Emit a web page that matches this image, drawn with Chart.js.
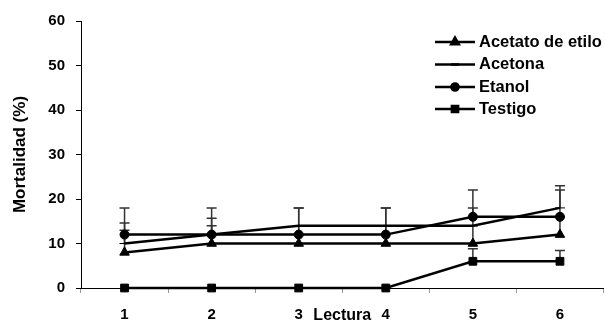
<!DOCTYPE html>
<html>
<head>
<meta charset="utf-8">
<script src="https://cdn.jsdelivr.net/npm/chart.js@4/dist/chart.umd.min.js"></script>
<style>
    html, body { margin: 0; padding: 0; background: #fff; overflow: hidden; }
    #wrap { position: relative; width: 610px; height: 321px; }
</style>
</head>
<body>
<div id="wrap"><canvas id="chart"></canvas></div>
<script>
// Chart values
const lecturas = ['1', '2', '3', '4', '5', '6'];
const acetato = [8, 10, 10, 10, 10, 12];
const acetona = [10, 12, 14, 14, 14, 18];
const etanol = [12, 12, 12, 12, 16, 16];
const testigo = [0, 0, 0, 0, 6, 6];

// Upper error bars (only the upper half is shown)
const errAcetato = [5, 4, 4, 4, 4, 4];
const errAcetona = [4.6, 3.7, 4, 4, 4, 5];
const errEtanol = [6, 6, 6, 6, 6, 6];
const errTestigo = [0, 0, 0, 0, 2.8, 2.4];

const yTicks = [0, 10, 20, 30, 40, 50, 60];

const FONT = "'Liberation Sans', Arial, sans-serif";

/**
 * Draws the upper error whiskers behind the lines
 */
const errorBars = {
    id: 'errorBars',
    beforeDatasetsDraw(chart) {
        const ctx = chart.ctx;
        const x = chart.scales.x;
        const y = chart.scales.y;
        ctx.save();
        ctx.strokeStyle = '#333';
        ctx.lineWidth = 1.5;
        chart.data.datasets.forEach(ds => {
            ds.errors.forEach((err, i) => {
                if (!err) return;
                const px = x.getPixelForValue(i);
                const y0 = y.getPixelForValue(ds.data[i]);
                const y1 = y.getPixelForValue(ds.data[i] + err);
                ctx.beginPath();
                ctx.moveTo(px, y0);
                ctx.lineTo(px, y1);
                ctx.moveTo(px - 5, y1);
                ctx.lineTo(px + 5, y1);
                ctx.stroke();
            });
        });
        ctx.restore();
    }
};

/**
 * Legend with a line segment and marker, as in the original
 */
const lineLegend = {
    id: 'lineLegend',
    afterDraw(chart) {
        const ctx = chart.ctx;
        const rows = [42, 64.5, 87, 109];
        ctx.save();
        chart.data.datasets.forEach((ds, i) => {
            const yy = rows[i];
            ctx.strokeStyle = '#000';
            ctx.lineWidth = 2.5;
            ctx.beginPath();
            ctx.moveTo(435, yy);
            ctx.lineTo(475, yy);
            ctx.stroke();
            ctx.fillStyle = '#000';
            Chart.helpers.drawPoint(ctx, {
                pointStyle: ds.pointStyle,
                radius: ds.pointRadius * 0.8,
                rotation: 0,
                borderWidth: 1
            }, 455, yy);
            ctx.fillStyle = '#000';
            ctx.font = 'bold 16.5px ' + FONT;
            ctx.textBaseline = 'middle';
            ctx.textAlign = 'left';
            ctx.fillText(ds.label, 479, yy);
        });
        ctx.restore();
    }
};

function makeSet(label, data, errors, style, radius) {
    return {
        label: label,
        data: data,
        errors: errors,
        borderColor: '#000',
        backgroundColor: '#000',
        borderWidth: 2.5,
        pointStyle: style,
        pointRadius: radius,
        pointBorderWidth: 1,
        pointBorderColor: '#000',
        pointBackgroundColor: '#000',
        tension: 0,
        clip: false
    };
}

new Chart(document.getElementById('chart').getContext('2d'), {
    type: 'line',
    data: {
        labels: lecturas,
        datasets: [
            makeSet('Acetato de etilo', acetato, errAcetato, 'triangle', 5.5),
            makeSet('Acetona', acetona, errAcetona, 'line', 5),
            makeSet('Etanol', etanol, errEtanol, 'circle', 4.5),
            makeSet('Testigo', testigo, errTestigo, 'rect', 5.5)
        ]
    },
    options: {
        responsive: true,
        maintainAspectRatio: false,
        animation: false,
        events: [],
        layout: { padding: { top: 21, left: 0, right: 0, bottom: 0 } },
        plugins: {
            legend: { display: false },
            tooltip: { enabled: false }
        },
        scales: {
            x: {
                offset: true,
                grid: {
                    offset: true,
                    drawOnChartArea: false,
                    drawTicks: true,
                    tickLength: 5,
                    color: '#999'
                },
                border: { display: true, color: '#000', width: 1 },
                ticks: {
                    color: '#000',
                    padding: 13,
                    font: { family: FONT, size: 15, weight: 'bold' }
                },
                title: {
                    display: true,
                    text: 'Lectura',
                    color: '#000',
                    padding: { top: 0, bottom: -3 },
                    font: { family: FONT, size: 16, weight: 'bold', lineHeight: 1 }
                },
                afterFit(scale) { scale.height = 33; }
            },
            y: {
                min: 0,
                max: 60,
                afterBuildTicks(scale) {
                    scale.ticks = yTicks.map(v => ({ value: v }));
                },
                grid: {
                    drawOnChartArea: false,
                    drawTicks: true,
                    tickLength: 5,
                    color: '#000'
                },
                border: { display: true, color: '#000', width: 1 },
                ticks: {
                    color: '#000',
                    padding: 11,
                    font: { family: FONT, size: 15, weight: 'bold' }
                },
                title: {
                    display: true,
                    text: 'Mortalidad (%)',
                    color: '#000',
                    padding: { top: 12, bottom: 0 },
                    font: { family: FONT, size: 17, weight: 'bold', lineHeight: 1 }
                },
                afterFit(scale) { scale.width = 81; }
            }
        }
    },
    plugins: [errorBars, lineLegend]
});
</script>
</body>
</html>
